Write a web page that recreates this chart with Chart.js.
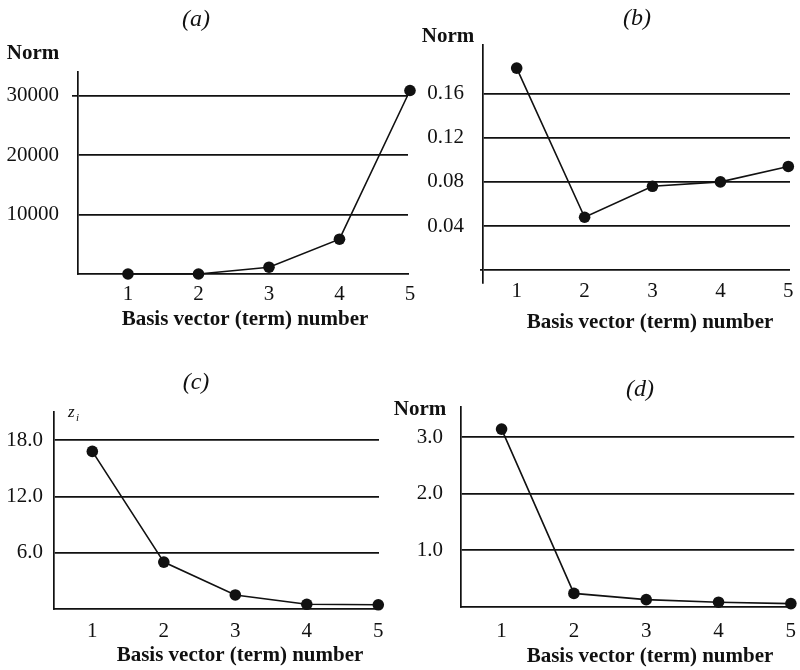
<!DOCTYPE html>
<html>
<head>
<meta charset="utf-8">
<title>Basis vector norms</title>
<script src="https://cdn.jsdelivr.net/npm/chart.js@4.4.1/dist/chart.umd.min.js"></script>
<style>
    html, body { margin: 0; padding: 0; background: #fff; }
    #wrap { position: relative; width: 800px; height: 670px; }
    #wrap canvas { position: absolute; left: 0; top: 0; }
</style>
</head>
<body>
<div id="wrap">
    <canvas id="chartA" width="800" height="670"></canvas>
    <canvas id="chartB" width="800" height="670"></canvas>
    <canvas id="chartC" width="800" height="670"></canvas>
    <canvas id="chartD" width="800" height="670"></canvas>
</div>
<script>
// Data
const terms = [1, 2, 3, 4, 5];
const normA = [0, 0, 1140, 5850, 30840];
const normB = [0.183, 0.048, 0.076, 0.080, 0.094];
const ziC = [16.8, 5.0, 1.5, 0.5, 0.45];
const normD = [3.14, 0.24, 0.13, 0.085, 0.06];

// y tick values (gridlines)
const ticksA = [10000, 20000, 30000];
const ticksB = [0, 0.04, 0.08, 0.12, 0.16];
const ticksC = [6.0, 12.0, 18.0];
const ticksD = [1.0, 2.0, 3.0];

const xTitle = 'Basis vector (term) number';
const INK = '#111';
const SERIF = "'Liberation Serif', 'Times New Roman', serif";

Chart.defaults.font.family = SERIF;
Chart.defaults.color = INK;

// Draws the free-standing texts of a panel (letter, y label, x title)
function textPlugin(items) {
    return {
        id: 'panelText',
        afterDraw(chart) {
            const ctx = chart.ctx;
            ctx.save();
            ctx.fillStyle = INK;
            ctx.textBaseline = 'alphabetic';
            items.forEach(t => {
                ctx.font = t.font;
                ctx.textAlign = t.align || 'center';
                ctx.fillText(t.text, t.x, t.y);
            });
            ctx.restore();
        }
    };
}

function makePanel(id, p) {
    const ctx = document.getElementById(id).getContext('2d');
    return new Chart(ctx, {
        type: 'line',
        data: {
            datasets: [{
                data: terms.map((t, i) => ({ x: t, y: p.values[i] })),
                borderColor: INK,
                borderWidth: 1.6,
                backgroundColor: INK,
                pointBackgroundColor: INK,
                pointBorderWidth: 0,
                pointRadius: 5.8,
                tension: 0,
                clip: false
            }]
        },
        options: {
            responsive: false,
            animation: false,
            events: [],
            layout: { padding: p.padding },
            plugins: {
                legend: { display: false },
                tooltip: { enabled: false }
            },
            scales: {
                x: {
                    type: 'linear',
                    min: p.xMin,
                    max: p.xMax,
                    afterBuildTicks: s => { s.ticks = terms.map(v => ({ value: v })); },
                    afterFit: s => {
                        s.height = 40;
                        s.paddingLeft = 0;
                        s.paddingRight = 0;
                    },
                    grid: { display: false, drawTicks: false },
                    border: { display: p.xBorder, color: INK, width: 1.7 },
                    ticks: {
                        autoSkip: false,
                        maxRotation: 0,
                        padding: p.xPad,
                        font: { size: 21, lineHeight: p.xLineHeight || 1.2 },
                        color: INK,
                        callback: v => String(v)
                    }
                },
                y: {
                    type: 'linear',
                    min: p.yMin,
                    max: p.yMax,
                    afterBuildTicks: s => { s.ticks = p.yTicks.map(v => ({ value: v })); },
                    afterFit: s => {
                        s.width = p.yWidth;
                        s.paddingTop = 0;
                        s.paddingBottom = 0;
                    },
                    grid: {
                        color: INK,
                        lineWidth: 1.7,
                        drawTicks: p.tickLen > 0,
                        tickLength: p.tickLen,
                        tickColor: c => p.stubs.includes(c.tick.value) ? INK : 'rgba(0,0,0,0)'
                    },
                    border: { display: true, color: INK, width: 1.7 },
                    ticks: {
                        padding: p.yPad,
                        font: { size: 21 },
                        color: INK,
                        callback: p.fmt
                    }
                }
            }
        },
        plugins: [textPlugin(p.texts)]
    });
}

// (a)
makePanel('chartA', {
    values: normA,
    yTicks: ticksA,
    yMin: 0, yMax: 33950,
    xMin: 0.291, xMax: 4.972,
    padding: { left: 0, top: 72, right: 392, bottom: 356 },
    yWidth: 78,
    xBorder: true, xPad: 8,
    tickLen: 6, stubs: [30000], yPad: 13,
    fmt: v => String(v),
    texts: [
        { text: '(a)', x: 196, y: 26, font: `italic 24px ${SERIF}` },
        { text: 'Norm', x: 33, y: 59, font: `bold 21px ${SERIF}` },
        { text: xTitle, x: 245, y: 325, font: `bold 21px ${SERIF}` }
    ]
});

// (b)
makePanel('chartB', {
    values: normB,
    yTicks: ticksB,
    yMin: -0.0115, yMax: 0.2039,
    xMin: 0.504, xMax: 5.025,
    padding: { left: 400, top: 45, right: 10, bottom: 347 },
    yWidth: 83,
    xBorder: false, xPad: 0, xLineHeight: 0.8,
    tickLen: 3, stubs: [0], yPad: 16,
    fmt: v => v === 0 ? '' : v.toFixed(2),
    texts: [
        { text: '(b)', x: 637, y: 25, font: `italic 24px ${SERIF}` },
        { text: 'Norm', x: 448, y: 42, font: `bold 21px ${SERIF}` },
        { text: xTitle, x: 650, y: 328, font: `bold 21px ${SERIF}` }
    ]
});

// (c)
makePanel('chartC', {
    values: ziC,
    yTicks: ticksC,
    yMin: 0, yMax: 21,
    xMin: 0.464, xMax: 5.01,
    padding: { left: 0, top: 412, right: 421, bottom: 21 },
    yWidth: 54,
    xBorder: true, xPad: 10,
    tickLen: 0, stubs: [], yPad: 11,
    fmt: v => v.toFixed(1),
    texts: [
        { text: '(c)', x: 196, y: 389, font: `italic 24px ${SERIF}` },
        { text: 'z', x: 68, y: 417, font: `italic 17px ${SERIF}`, align: 'left' },
        { text: 'i', x: 76, y: 421, font: `italic 11px ${SERIF}`, align: 'left' },
        { text: xTitle, x: 240, y: 661, font: `bold 21px ${SERIF}` }
    ]
});

// (d)
makePanel('chartD', {
    values: normD,
    yTicks: ticksD,
    yMin: 0, yMax: 3.53,
    xMin: 0.439, xMax: 5.046,
    padding: { left: 380, top: 407, right: 5, bottom: 23 },
    yWidth: 81,
    xBorder: true, xPad: 12,
    tickLen: 0, stubs: [], yPad: 18,
    fmt: v => v.toFixed(1),
    texts: [
        { text: '(d)', x: 640, y: 396, font: `italic 24px ${SERIF}` },
        { text: 'Norm', x: 420, y: 415, font: `bold 21px ${SERIF}` },
        { text: xTitle, x: 650, y: 662, font: `bold 21px ${SERIF}` }
    ]
});
</script>
</body>
</html>
